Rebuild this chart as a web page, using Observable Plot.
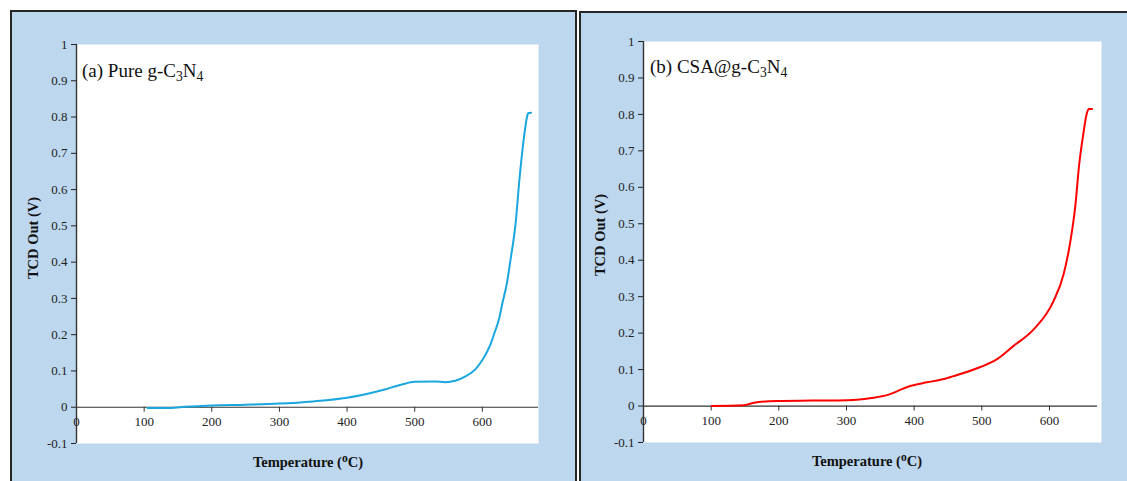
<!DOCTYPE html>
<html><head><meta charset="utf-8">
<script src="https://cdn.jsdelivr.net/npm/d3@7"></script>
<script src="https://cdn.jsdelivr.net/npm/@observablehq/plot@0.6"></script>
<style>
html,body{margin:0;padding:0;background:#fff;width:1127px;height:481px;overflow:hidden;}
#root{position:relative;width:1127px;height:481px;overflow:hidden;font-family:"Liberation Serif","Times New Roman",serif;}
.panel{position:absolute;background:#BDD7EE;border:2px solid #262626;box-sizing:border-box;}
.plot{position:absolute;top:0;}
.lab{position:absolute;font-weight:bold;color:#111;white-space:nowrap;font-size:14.5px;line-height:16px;}
.ann{position:absolute;font-size:19px;line-height:19px;color:#111;white-space:nowrap;}
sub{font-size:0.72em;vertical-align:baseline;position:relative;top:0.3em;}
sup{font-size:0.8em;vertical-align:baseline;position:relative;top:-0.45em;}
</style></head><body>
<div id="root">
  <div class="panel" style="left:10px;top:10px;width:567px;height:520px;"></div>
  <div class="panel" style="left:579px;top:11px;width:600px;height:520px;"></div>
  <div id="plotA" class="plot" style="left:0px;"></div>
  <div id="plotB" class="plot" style="left:560px;"></div>
  <div class="ann" style="left:82px;top:61px;">(a) Pure g-C<sub>3</sub>N<sub>4</sub></div>
  <div class="ann" style="left:650px;top:57px;">(b) CSA@g-C<sub>3</sub>N<sub>4</sub></div>
  <div class="lab" style="left:33px;top:238px;transform:translate(-50%,-50%) rotate(-90deg);">TCD Out (V)</div>
  <div class="lab" style="left:600px;top:235px;transform:translate(-50%,-50%) rotate(-90deg);">TCD Out (V)</div>
  <div class="lab" style="left:308px;top:463px;transform:translate(-50%,-50%);">Temperature (<sup>o</sup>C)</div>
  <div class="lab" style="left:867px;top:462px;transform:translate(-50%,-50%);">Temperature (<sup>o</sup>C)</div>
</div>
<script>
// Panel (a) Pure g-C3N4
const tempA = [105,140,160,200,250,300,350,400,450,480,500,530,545,560,575,590,600,612,617,625,630,636,642,649,655,662,666,668,672];
const tcdA  = [-0.002,-0.002,0.001,0.005,0.007,0.010,0.016,0.026,0.046,0.062,0.070,0.071,0.069,0.073,0.085,0.105,0.130,0.173,0.200,0.246,0.290,0.339,0.411,0.504,0.632,0.751,0.800,0.811,0.812];
// Panel (b) CSA@g-C3N4
const tempB = [101,148,163,197,250,301,340,360,394,419,439,458,498,522,547,577,606,621,631,638,644,650,655,658,663];
const tcdB  = [0,0.002,0.009,0.014,0.015,0.016,0.023,0.030,0.055,0.065,0.072,0.082,0.107,0.128,0.165,0.211,0.288,0.362,0.453,0.545,0.664,0.746,0.801,0.815,0.815];

const xTicks = [0,100,200,300,400,500,600];
const yTicks = [-0.1,0,0.1,0.2,0.3,0.4,0.5,0.6,0.7,0.8,0.9,1];
const yDomain = [-0.1, 1];

function panel(T, V, color, o) {
  const data = T.map((t, i) => ({t, v: V[i]}));
  return Plot.plot({
    width: o.width, height: 481,
    marginLeft: o.ml, marginRight: o.mr, marginTop: o.mt, marginBottom: o.mb,
    x: {domain: o.xDomain, axis: null},
    y: {domain: yDomain, axis: null},
    style: {background: "transparent", fontFamily: "'Liberation Serif','Times New Roman',serif", fontSize: "13px", color: "#222"},
    marks: [
      Plot.frame({fill: "white", stroke: null, insetRight: o.frameInset || 0}),
      Plot.ruleY([0], {stroke: "#333", strokeWidth: 1.2}),
      Plot.ruleX([0], {stroke: "#333", strokeWidth: 1.4}),
      Plot.axisY(yTicks, {anchor: "left", label: null, tickSize: 5, tickPadding: 4, tickFormat: d => String(d), color: "#222"}),
      Plot.ruleX(xTicks, {x: d => d, y1: () => 0, y2: () => 0, insetBottom: -5, stroke: "#333"}),
      Plot.text(xTicks, {x: d => d, y: () => 0, dy: 15, text: d => String(d), fill: "#222", fontSize: 13}),
      Plot.line(data, {x: "t", y: "v", stroke: color, strokeWidth: 2, curve: "monotone-x"})
    ]
  });
}

document.getElementById("plotA").append(panel(tempA, tcdA, "#1AA6DF",
  {width: 576, ml: 76, mr: 38, mt: 44, mb: 38, xDomain: [0, 683]}));
document.getElementById("plotB").append(panel(tempB, tcdB, "#FF0000",
  {width: 567, ml: 83, mr: 30, mt: 41, mb: 39, xDomain: [0, 671], frameInset: -4}));
</script>
</body></html>
